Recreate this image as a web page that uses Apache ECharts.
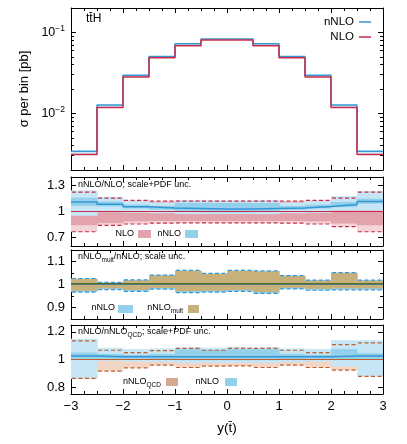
<!DOCTYPE html>
<html>
<head>
<meta charset="utf-8">
<script src="https://cdn.jsdelivr.net/npm/echarts@6/dist/echarts.min.js"></script>
<style>
  html, body { margin: 0; padding: 0; background: #fff }
  #chart { width: 407px; height: 444px }
</style>
</head>
<body>
<div id="chart"></div>
<script>
// bin edges in y(tbar)
const edges = [-3, -2.5, -2, -1.5, -1, -0.5, 0, 0.5, 1, 1.5, 2, 2.5, 3]

// panel 1: cross section per bin [pb]
const nnloXS = [0.0034, 0.0127, 0.0295, 0.0505, 0.0725, 0.0828, 0.0828, 0.0725, 0.0505, 0.0295, 0.0127, 0.0034]
const nloXS = [0.0031, 0.0118, 0.0281, 0.0487, 0.0684, 0.0804, 0.0804, 0.0684, 0.0487, 0.0281, 0.0118, 0.0031]

// panel 2: nNLO/NLO, scale+PDF
const nloTotUp2 = [1.225, 1.155, 1.13, 1.12, 1.12, 1.12, 1.12, 1.12, 1.12, 1.13, 1.155, 1.225]
const nloTotDn2 = [0.765, 0.84, 0.855, 0.865, 0.868, 0.868, 0.868, 0.868, 0.865, 0.855, 0.825, 0.765]
const nloScaleUp2 = [1.16, 1.135, 1.115, 1.11, 1.11, 1.11, 1.11, 1.11, 1.11, 1.115, 1.14, 1.16]
const nloScaleDn2 = [0.84, 0.865, 0.885, 0.89, 0.89, 0.89, 0.89, 0.89, 0.89, 0.885, 0.86, 0.84]
const nnloRatio2 = [1.11, 1.085, 1.056, 1.04, 1.035, 1.03, 1.03, 1.035, 1.04, 1.058, 1.08, 1.115]
const nnloTotUp2 = [1.245, 1.17, 1.12, 1.105, 1.135, 1.13, 1.13, 1.135, 1.105, 1.12, 1.18, 1.236]
const nnloTotDn2 = [0.95, 0.99, 0.985, 0.98, 0.97, 0.97, 0.97, 0.97, 0.98, 0.985, 1.01, 1.01]
const nnloScaleUp2 = [1.16, 1.115, 1.08, 1.065, 1.1, 1.1, 1.1, 1.1, 1.065, 1.08, 1.11, 1.15]
const nnloScaleDn2 = [1.065, 1.06, 1.035, 1.02, 0.995, 0.99, 0.99, 0.995, 1.02, 1.035, 1.05, 1.09]

// panel 3: nNLO_mult/nNLO, scale
const nnloUp3 = [1.026, 1.009, 1.02, 1.041, 1.061, 1.048, 1.061, 1.059, 1.039, 1.019, 1.052, 1.019]
const nnloDn3 = [0.967, 0.978, 0.97, 0.98, 0.965, 0.967, 0.97, 0.961, 0.981, 0.975, 0.977, 0.977]
const multUp3 = [1.024, 1.007, 1.018, 1.039, 1.059, 1.046, 1.059, 1.057, 1.037, 1.017, 1.05, 1.017]
const multDn3 = [0.973, 0.983, 0.976, 0.985, 0.971, 0.973, 0.976, 0.967, 0.986, 0.981, 0.983, 0.983]
const multRatio3 = [1.003, 1.003, 1.003, 1.003, 1.003, 1.003, 1.003, 1.003, 1.003, 1.003, 1.003, 1.003]

// panel 4: nNLO/nNLO_QCD, scale+PDF
const qcdUp4 = [1.135, 1.067, 1.05, 1.065, 1.08, 1.067, 1.08, 1.08, 1.067, 1.05, 1.108, 1.12]
const qcdDn4 = [0.863, 0.916, 0.94, 0.959, 0.942, 0.952, 0.954, 0.942, 0.959, 0.942, 0.923, 0.878]
const nnloTotUp4 = [1.15, 1.085, 1.075, 1.08, 1.09, 1.085, 1.09, 1.09, 1.08, 1.075, 1.14, 1.14]
const nnloTotDn4 = [0.86, 0.99, 0.985, 0.98, 0.975, 0.975, 0.975, 0.975, 0.98, 0.985, 0.95, 0.88]
const nnloScaleUp4 = [1.05, 1.04, 1.035, 1.04, 1.075, 1.07, 1.075, 1.075, 1.04, 1.035, 1.075, 1.045]
const nnloScaleDn4 = [1.005, 1.005, 1.005, 1.0, 0.995, 0.995, 0.995, 0.995, 1.0, 1.005, 1.0, 1.005]
const nnloRatio4 = [1.025, 1.02, 1.02, 1.02, 1.02, 1.02, 1.02, 1.02, 1.02, 1.02, 1.025, 1.025]

const ones = [1, 1, 1, 1, 1, 1, 1, 1, 1, 1, 1, 1]

// axis ticks / labels
const xTicks = [-3, -2, -1, 0, 1, 2, 3]
const logLabels = [0.01, 0.1]
const logMinor = [0.002, 0.003, 0.004, 0.005, 0.006, 0.007, 0.008, 0.009, 0.02, 0.03, 0.04, 0.05, 0.06, 0.07, 0.08, 0.09, 0.2]
const r2Labels = [0.7, 1, 1.3]
const r2Minor = [0.6, 0.8, 0.9, 1.1, 1.2, 1.4]
const r3Labels = [0.9, 1, 1.1]
const r3Minor = [0.85, 0.95, 1.05, 1.15]
const r4Labels = [0.8, 1, 1.2]
const r4Minor = [0.9, 1.1]

const FONT = 'Liberation Sans, Arial, sans-serif'
const BLUE_LINE = '#3497d4'
const BLUE_LIGHT = '#c6e6f5'
const BLUE_DARK = '#93d0ec'
const RED_LINE = '#cc2a4a'
const PINK_DARK = '#e3a3ad'
const PINK_LIGHT = '#f3d4d9'
const TAN = '#c8b07a'
const OLIVE = '#5b6a2a'
const SALMON_LIGHT = '#f1d5c5'
const SALMON = '#d6a892'
const BROWN = '#bf5f2c'

function bandSeries(p, lo, hi, color) {
  return {
    type: 'custom', xAxisIndex: 2 * p, yAxisIndex: 4 * p, clip: true, silent: true,
    data: lo.map((v, i) => [edges[i], edges[i + 1], v, hi[i]]),
    encode: { x: [0, 1], y: [2, 3] },
    renderItem: (params, api) => {
      const a = api.coord([api.value(0), api.value(3)])
      const b = api.coord([api.value(1), api.value(2)])
      return { type: 'rect', shape: { x: a[0], y: a[1], width: b[0] - a[0] + 0.5, height: b[1] - a[1] }, style: { fill: color } }
    }
  }
}

function dashSeries(p, vals, color) {
  return {
    type: 'custom', xAxisIndex: 2 * p, yAxisIndex: 4 * p, clip: true, silent: true,
    data: vals.map((v, i) => [edges[i], edges[i + 1], v]),
    encode: { x: [0, 1], y: 2 },
    renderItem: (params, api) => {
      const a = api.coord([api.value(0), api.value(2)])
      const b = api.coord([api.value(1), api.value(2)])
      return { type: 'line', shape: { x1: a[0] + 1, y1: a[1], x2: b[0] - 1, y2: b[1] }, style: { stroke: color, lineWidth: 1.2, lineDash: [4, 2.5] } }
    }
  }
}

function stepSeries(p, vals, color, width) {
  return {
    type: 'line', step: 'end', xAxisIndex: 2 * p, yAxisIndex: 4 * p, silent: true,
    symbol: 'none', showSymbol: false,
    data: edges.map((x, i) => [x, vals[Math.min(i, vals.length - 1)]]),
    lineStyle: { color, width }
  }
}

function xAxes(p, showLabels) {
  const base = {
    type: 'value', min: -3, max: 3, interval: 1, gridIndex: p,
    splitLine: { show: false },
    axisLine: { show: true, onZero: false, lineStyle: { color: '#000', width: 1 } },
    axisTick: { show: true, inside: true, length: 5, lineStyle: { color: '#000' } },
    minorTick: { show: true, splitNumber: 4, length: 3, lineStyle: { color: '#000' } }
  }
  return [
    {
      ...base, position: 'bottom',
      axisLabel: {
        show: showLabels, color: '#000', fontSize: 13, fontFamily: FONT, margin: 6,
        formatter: v => (v < 0 ? '\u2212' + Math.abs(v) : String(v))
      },
      name: showLabels ? 'y(t\u0304)' : '', nameLocation: 'middle', nameGap: 27,
      nameTextStyle: { color: '#000', fontSize: 13.5, fontFamily: FONT }
    },
    { ...base, position: 'top', axisLabel: { show: false } }
  ]
}

function yAxes(p, type, min, max, labels, minor, fmt, extra) {
  const base = {
    type, min, max, gridIndex: p, splitLine: { show: false },
    axisLine: { show: true, onZero: false, lineStyle: { color: '#000', width: 1 } }
  }
  if (type === 'log') base.logBase = 10
  const major = { show: true, inside: true, length: 5, customValues: labels, lineStyle: { color: '#000' } }
  const small = { show: true, inside: true, length: 3, customValues: minor, lineStyle: { color: '#000' } }
  return [
    {
      ...base, position: 'left', axisTick: major,
      axisLabel: { show: true, customValues: labels, formatter: fmt, color: '#000', fontSize: 13, fontFamily: FONT, margin: 6, ...(extra || {}) }
    },
    { ...base, position: 'left', axisLine: { show: false, onZero: false }, axisTick: small, axisLabel: { show: false } },
    { ...base, position: 'right', axisTick: major, axisLabel: { show: false } },
    { ...base, position: 'right', axisLine: { show: false, onZero: false }, axisTick: small, axisLabel: { show: false } }
  ]
}

const ratioFmt = v => String(Math.round(v * 100) / 100)
const logFmt = v => '{b|10}{e|\u2212' + Math.round(-Math.log10(v)) + '}'

const yAxisList = [
  ...yAxes(0, 'log', 0.002, 0.2, logLabels, logMinor, logFmt, {
    rich: {
      b: { fontSize: 12.5, lineHeight: 16, fontFamily: FONT, color: '#000' },
      e: { fontSize: 8.5, lineHeight: 9, verticalAlign: 'top', fontFamily: FONT, color: '#000' }
    }
  }),
  ...yAxes(1, 'value', 0.6, 1.4, r2Labels, r2Minor, ratioFmt),
  ...yAxes(2, 'value', 0.85, 1.15, r3Labels, r3Minor, ratioFmt),
  ...yAxes(3, 'value', 0.75, 1.25, r4Labels, r4Minor, ratioFmt)
]
yAxisList[0].name = '\u03c3 per bin [pb]'
yAxisList[0].nameLocation = 'middle'
yAxisList[0].nameGap = 37
yAxisList[0].nameTextStyle = { color: '#000', fontSize: 13, fontFamily: FONT }

const series = [
  // panel 1
  bandSeries(0, nloXS, nnloXS, '#cfe7f2'),
  stepSeries(0, nnloXS, BLUE_LINE, 1.5),
  stepSeries(0, nloXS, RED_LINE, 1.5),
  // panel 2
  bandSeries(1, nloTotDn2, nloTotUp2, PINK_LIGHT),
  bandSeries(1, nloScaleDn2, nloScaleUp2, PINK_DARK),
  bandSeries(1, nnloTotDn2, nnloTotUp2, BLUE_LIGHT),
  bandSeries(1, nnloScaleDn2, nnloScaleUp2, BLUE_DARK),
  stepSeries(1, ones, RED_LINE, 1.2),
  stepSeries(1, nnloRatio2, BLUE_LINE, 1.5),
  dashSeries(1, nloTotUp2, RED_LINE),
  dashSeries(1, nloTotDn2, RED_LINE),
  // panel 3
  bandSeries(2, nnloDn3, nnloUp3, BLUE_DARK),
  bandSeries(2, multDn3, multUp3, TAN),
  stepSeries(2, ones, BLUE_LINE, 1.2),
  stepSeries(2, multRatio3, OLIVE, 1.5),
  dashSeries(2, nnloUp3, BLUE_LINE),
  dashSeries(2, nnloDn3, BLUE_LINE),
  // panel 4
  bandSeries(3, qcdDn4, qcdUp4, SALMON_LIGHT),
  bandSeries(3, nnloTotDn4, nnloTotUp4, BLUE_LIGHT),
  bandSeries(3, nnloScaleDn4, nnloScaleUp4, BLUE_DARK),
  stepSeries(3, ones, BROWN, 1.2),
  stepSeries(3, nnloRatio4, BLUE_LINE, 1.5),
  dashSeries(3, qcdUp4, BROWN),
  dashSeries(3, qcdDn4, BROWN)
]

const subRich = {
  a: { fontSize: 9, lineHeight: 14, fontFamily: FONT, color: '#000' },
  s: { fontSize: 6.5, lineHeight: 7, verticalAlign: 'bottom', fontFamily: FONT, color: '#000' }
}

function label(x, y, text, align, size) {
  return {
    type: 'text', x, y, silent: true,
    style: { text, align: align || 'left', verticalAlign: 'middle', fontSize: size || 9, fontFamily: FONT, fill: '#000', rich: subRich }
  }
}
function swatch(x, y, w, h, color) {
  return { type: 'rect', shape: { x, y, width: w, height: h }, style: { fill: color }, silent: true }
}
function sample(x1, x2, y, color) {
  return { type: 'line', shape: { x1, y1: y, x2, y2: y }, style: { stroke: color, lineWidth: 1.5 }, silent: true }
}

const graphic = [
  label(86, 19, 'tt\u0304H', 'left', 12),
  label(354, 22, 'nNLO', 'right', 11.5),
  sample(359, 371, 22, BLUE_LINE),
  label(354, 37, 'NLO', 'right', 11.5),
  sample(359, 371, 37, RED_LINE),

  label(78, 185, '{a|nNLO/NLO; scale+PDF unc.}'),
  label(134, 234, '{a|NLO}', 'right'),
  swatch(138, 230, 13, 8, PINK_DARK),
  label(181, 234, '{a|nNLO}', 'right'),
  swatch(185, 230, 13, 8, BLUE_DARK),

  label(78, 257, '{a|nNLO}{s|mult}{a|/nNLO; scale unc.}'),
  label(115, 308, '{a|nNLO}', 'right'),
  swatch(118, 305, 15, 8, BLUE_DARK),
  label(183, 308, '{a|nNLO}{s|mult}', 'right'),
  swatch(188, 305, 11, 8, TAN),

  label(78, 332, '{a|nNLO/nNLO}{s|QCD}{a|; scale+PDF unc.}'),
  label(161, 382, '{a|nNLO}{s|QCD}', 'right'),
  swatch(166, 378, 12, 8, SALMON),
  label(219, 382, '{a|nNLO}', 'right'),
  swatch(225, 378, 12, 8, BLUE_DARK)
]

const chart = echarts.init(document.getElementById('chart'), null, { renderer: 'canvas' })
chart.setOption({
  animation: false,
  backgroundColor: '#fff',
  textStyle: { fontFamily: FONT },
  grid: [
    { left: 71, top: 8, width: 312, height: 162 },
    { left: 71, top: 177, width: 312, height: 69 },
    { left: 71, top: 250, width: 312, height: 69 },
    { left: 71, top: 325, width: 312, height: 69 }
  ],
  xAxis: [...xAxes(0, false), ...xAxes(1, false), ...xAxes(2, false), ...xAxes(3, true)],
  yAxis: yAxisList,
  series,
  graphic
})
</script>
</body>
</html>
